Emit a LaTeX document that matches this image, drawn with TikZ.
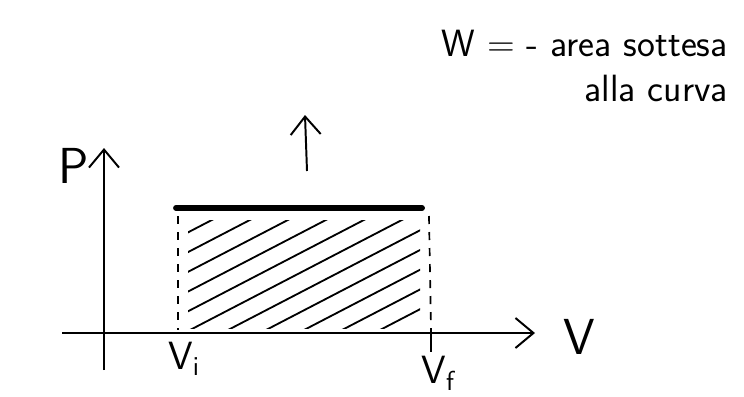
\documentclass[tikz,border=0pt]{standalone}
\usepackage{tikz}
\usetikzlibrary{arrows.meta}

\begin{document}
\begin{tikzpicture}[
  x=0.025cm, y=-0.025cm,
  axis_line/.style={line width=1.4pt, -{Straight Barb[length=4.5mm, width=7.5mm, line width=1.4pt]}},
  label_txt/.style={font=\sffamily\fontsize{36}{38}\selectfont, inner sep=0pt},
  sub_txt/.style={font=\sffamily\fontsize{28}{30}\selectfont, inner sep=0pt},
  note_txt/.style={font=\sffamily\fontsize{27}{32}\selectfont, inner sep=0pt, align=right},
  border_line/.style={line width=1.2pt, dash pattern=on 2mm off 2mm},
  hatch_line/.style={line width=1.3pt, line cap=round}
]
\useasboundingbox (0,0) rectangle (744,396);

% Axes
\coordinate (y_bot) at (104,370);
\coordinate (y_top) at (104,148);
\coordinate (x_left) at (62,333);
\coordinate (x_right) at (535,333);
\draw[axis_line] (y_bot) -- (y_top);
\draw[axis_line] (x_left) -- (x_right);

\node[label_txt] (p_lab) at (74,166) {P};
\node[label_txt] (v_lab) at (579,337) {V};
\node[sub_txt, anchor=north] (vi_lab) at (184,342) {V\textsubscript{i}};
\node[sub_txt, anchor=north] (vf_lab) at (438,356) {V\textsubscript{f}};

% Isobaric line
\coordinate (pa) at (176,208);
\coordinate (pb) at (422,208);
\draw[line width=4.2pt, line cap=round] (pa) -- (pb);

% Dashed borders
\coordinate (da) at (178,216);
\coordinate (db) at (178,330);
\coordinate (dc) at (429,216);
\coordinate (dd) at (431,328);
\coordinate (de) at (431,352);
\draw[border_line] (da) -- (db);
\draw[border_line] (dc) -- (dd);
\draw[line width=1.4pt] (dd) -- (de);

% Hatching
\begin{scope}
  \clip (188,220) rectangle (420,328);
  \foreach \xo in {0,38,...,400}
    \draw[hatch_line] (\xo,330) -- ++(260,-135);
\end{scope}

% Note
\node[note_txt, anchor=north east] (note) at (728,30) {W = - area sottesa\\alla curva};
\coordinate (arr_from) at (307,171);
\coordinate (arr_to) at (305,115);
\draw[axis_line] (arr_from) -- (arr_to);

\end{tikzpicture}
\end{document}
